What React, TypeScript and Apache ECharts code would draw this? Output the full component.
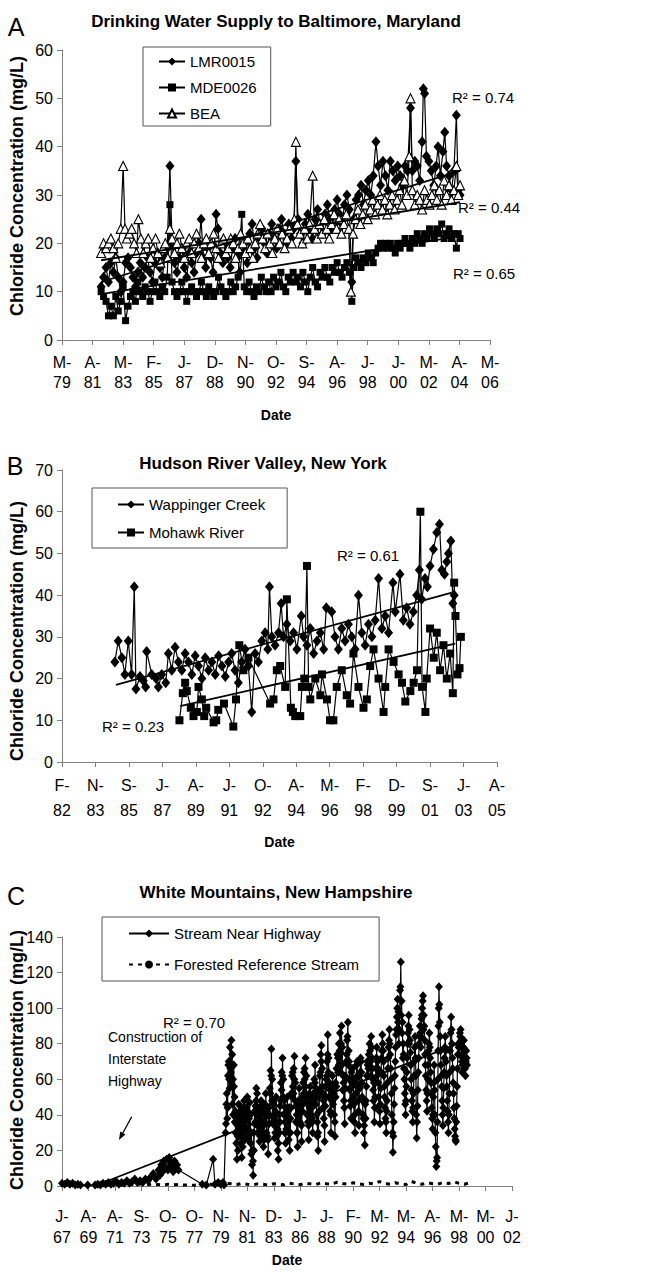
import React, { useEffect, useRef } from "react";
import * as echarts from "echarts";

const FONT = "'Liberation Sans', Arial, Helvetica, sans-serif";

// Date-axis tick labels (one label per major tick)
const ticksA = ["M-79", "A-81", "M-83", "F-85", "J-87", "D-88", "N-90", "O-92", "S-94", "A-96", "J-98", "J-00", "M-02", "A-04", "M-06"];
const ticksB = ["F-82", "N-83", "S-85", "J-87", "A-89", "J-91", "O-92", "A-94", "M-96", "F-98", "D-99", "S-01", "J-03", "A-05"];
const ticksC = ["J-67", "A-69", "A-71", "S-73", "O-75", "O-77", "N-79", "N-81", "D-83", "J-86", "J-88", "F-90", "M-92", "M-94", "A-96", "M-98", "M-00", "J-02"];

// x = position on the date axis in major-tick units, y = chloride (mg/L)
const lmr0015 = [[1.28,11],[1.36,13],[1.44,15],[1.52,12],[1.6,16],[1.68,14],[1.76,17],[1.84,13],[1.92,10],[2.0,12],[2.08,16],[2.16,17],[2.24,15],[2.32,13],[2.4,11],[2.48,14],[2.56,16],[2.64,13],[2.72,15],[2.8,17],[2.88,14],[2.96,12],[3.04,16],[3.12,18],[3.2,15],[3.28,13],[3.36,17],[3.44,19],[3.53,36],[3.6,20],[3.68,16],[3.76,14],[3.84,17],[3.92,19],[4.0,15],[4.08,13],[4.16,18],[4.24,16],[4.32,14],[4.4,18],[4.48,20],[4.55,25],[4.62,17],[4.7,15],[4.78,19],[4.86,17],[4.94,14],[5.04,26],[5.1,23],[5.18,18],[5.26,16],[5.34,20],[5.42,17],[5.5,15],[5.58,19],[5.66,21],[5.74,17],[5.82,14],[5.9,18],[5.98,20],[6.06,16],[6.14,22],[6.22,24],[6.3,19],[6.38,17],[6.46,21],[6.54,23],[6.62,20],[6.7,18],[6.78,22],[6.86,24],[6.94,21],[7.02,19],[7.1,23],[7.18,25],[7.26,22],[7.34,20],[7.42,24],[7.5,21],[7.58,23],[7.65,37],[7.72,25],[7.8,22],[7.88,20],[7.96,24],[8.04,26],[8.12,23],[8.2,21],[8.28,25],[8.36,27],[8.44,24],[8.52,22],[8.6,26],[8.68,28],[8.76,25],[8.84,23],[8.92,27],[9.0,29],[9.08,26],[9.16,24],[9.24,28],[9.32,30],[9.4,27],[9.48,12],[9.54,25],[9.62,29],[9.7,30],[9.78,32],[9.86,28],[9.94,31],[10.02,33],[10.1,30],[10.18,34],[10.27,41],[10.34,36],[10.42,32],[10.5,37],[10.58,34],[10.66,31],[10.74,37],[10.82,35],[10.9,33],[10.98,36],[11.06,34],[11.14,32],[11.22,36],[11.3,35],[11.4,48],[11.46,35],[11.54,37],[11.62,36],[11.7,33],[11.78,41],[11.82,52],[11.86,51],[11.92,38],[12.0,37],[12.08,35],[12.16,32],[12.24,36],[12.3,40],[12.38,34],[12.46,39],[12.52,43],[12.58,36],[12.66,34],[12.74,31],[12.82,35],[12.9,46.5],[12.96,31],[13.02,30]];
const mde0026 = [[1.28,10],[1.36,9],[1.44,8],[1.52,5],[1.6,7],[1.68,5],[1.76,9],[1.84,6],[1.92,8],[2.0,11],[2.08,4],[2.16,7],[2.24,9],[2.32,10],[2.4,8],[2.48,12],[2.56,10],[2.64,9],[2.72,11],[2.8,10],[2.88,8],[2.96,10],[3.04,12],[3.12,10],[3.2,9],[3.28,11],[3.36,10],[3.44,13],[3.53,28],[3.6,12],[3.68,10],[3.76,9],[3.84,10],[3.92,12],[4.0,10],[4.08,8],[4.16,10],[4.24,11],[4.32,10],[4.4,9],[4.48,10],[4.56,12],[4.64,10],[4.72,9],[4.8,11],[4.88,10],[4.96,9],[5.04,10],[5.12,13],[5.2,11],[5.28,10],[5.36,9],[5.44,10],[5.52,12],[5.6,10],[5.68,11],[5.76,13],[5.88,26],[5.96,11],[6.04,10],[6.12,12],[6.2,10],[6.28,9],[6.36,11],[6.44,10],[6.52,13],[6.6,11],[6.68,10],[6.76,12],[6.84,10],[6.92,13],[7.0,11],[7.08,12],[7.16,14],[7.24,11],[7.32,10],[7.4,13],[7.48,12],[7.56,14],[7.64,12],[7.72,13],[7.8,11],[7.88,14],[7.96,12],[8.04,10],[8.12,13],[8.2,15],[8.28,12],[8.36,11],[8.44,14],[8.52,13],[8.6,15],[8.68,13],[8.76,12],[8.84,15],[8.92,14],[9.0,16],[9.08,14],[9.16,13],[9.24,15],[9.32,16],[9.4,14],[9.48,8],[9.54,15],[9.62,17],[9.7,16],[9.78,15],[9.86,17],[9.94,16],[10.02,18],[10.1,17],[10.18,16],[10.26,18],[10.34,19],[10.42,20],[10.5,19],[10.58,20],[10.66,19],[10.74,20],[10.82,19],[10.9,18],[10.98,20],[11.06,19],[11.14,20],[11.22,21],[11.3,20],[11.38,19],[11.46,21],[11.54,20],[11.62,22],[11.7,21],[11.78,20],[11.86,22],[11.94,21],[12.02,23],[12.1,22],[12.18,21],[12.26,23],[12.34,22],[12.42,24],[12.5,21],[12.58,22],[12.66,23],[12.74,21],[12.82,22],[12.9,19],[12.96,22],[13.02,21]];
const bea = [[1.28,18],[1.36,20],[1.44,19],[1.52,20],[1.6,21],[1.68,19],[1.76,17],[1.84,20],[1.92,23],[2.0,36],[2.06,23],[2.12,21],[2.2,22],[2.28,23],[2.36,20],[2.44,18],[2.5,25],[2.58,21],[2.66,18],[2.74,20],[2.82,21],[2.9,17],[2.98,19],[3.06,21],[3.14,18],[3.22,16],[3.3,19],[3.38,20],[3.46,17],[3.53,23],[3.6,21],[3.68,18],[3.76,20],[3.84,22],[3.92,19],[4.0,17],[4.08,20],[4.16,21],[4.24,18],[4.32,20],[4.4,22],[4.48,19],[4.56,17],[4.64,20],[4.72,21],[4.8,18],[4.88,20],[4.96,22],[5.04,19],[5.12,17],[5.2,20],[5.28,21],[5.36,18],[5.44,19],[5.52,21],[5.6,20],[5.68,17],[5.76,19],[5.84,22],[5.92,20],[6.0,18],[6.08,21],[6.16,19],[6.24,17],[6.32,20],[6.4,22],[6.48,24],[6.56,21],[6.64,19],[6.72,22],[6.8,20],[6.88,18],[6.96,21],[7.04,23],[7.12,20],[7.2,22],[7.28,19],[7.36,21],[7.44,23],[7.52,20],[7.6,25],[7.65,41],[7.7,24],[7.78,22],[7.86,20],[7.94,23],[8.02,21],[8.1,24],[8.2,34],[8.26,23],[8.34,21],[8.42,24],[8.5,22],[8.58,25],[8.66,23],[8.74,21],[8.82,24],[8.9,26],[8.98,23],[9.06,25],[9.14,22],[9.22,24],[9.3,26],[9.38,23],[9.45,10],[9.52,22],[9.6,25],[9.68,27],[9.76,24],[9.84,26],[9.92,28],[10.0,25],[10.08,27],[10.16,29],[10.24,26],[10.32,28],[10.4,30],[10.48,27],[10.56,29],[10.64,26],[10.72,28],[10.8,30],[10.88,27],[10.96,29],[11.04,31],[11.12,28],[11.2,33],[11.28,30],[11.36,38],[11.4,50],[11.46,31],[11.54,28],[11.62,30],[11.7,29],[11.78,27],[11.86,31],[11.94,29],[12.02,28],[12.1,30],[12.18,32],[12.26,29],[12.34,31],[12.42,28],[12.5,33],[12.58,30],[12.66,32],[12.74,29],[12.82,31],[12.9,36],[12.96,30],[13.02,32]];
const trendLMR = [[1.28,12],[13.02,35]];
const trendMDE = [[1.28,9.5],[13.02,21.5]];
const trendBEA = [[1.28,16.5],[13.02,28.5]];

const wappinger = [[1.58,24],[1.68,29],[1.79,25],[1.88,21],[1.98,29],[2.08,21],[2.16,42],[2.21,17.5],[2.33,20.5],[2.43,19.5],[2.5,18],[2.53,26.5],[2.68,21],[2.81,20],[2.88,18],[2.98,21],[3.1,19],[3.18,26],[3.28,22],[3.38,27.5],[3.48,24],[3.58,22],[3.68,26],[3.78,24],[3.88,21],[3.98,25.5],[4.08,23],[4.18,20],[4.28,25],[4.38,22],[4.48,24],[4.58,21],[4.68,25.5],[4.78,23],[4.88,20.5],[4.98,24],[5.07,26],[5.17,22],[5.27,19],[5.37,24],[5.47,27],[5.57,23],[5.67,12],[5.77,26],[5.87,24],[5.97,29],[6.07,31],[6.15,27],[6.2,42],[6.27,30],[6.37,28],[6.47,31],[6.55,38],[6.62,30],[6.72,33],[6.82,29],[6.92,31],[7.02,27],[7.15,35],[7.22,30],[7.32,28],[7.42,32],[7.52,26],[7.62,29],[7.72,31],[7.82,27],[7.9,37],[8.06,36],[8.16,30],[8.26,27],[8.36,32],[8.46,29],[8.56,33],[8.66,30],[8.76,27],[8.86,40],[8.96,31],[9.06,28],[9.16,33],[9.26,30],[9.36,34],[9.46,44],[9.56,32],[9.66,35],[9.76,31],[9.89,43],[9.96,36],[10.1,45],[10.2,34],[10.3,37],[10.4,33],[10.5,36],[10.6,40],[10.68,46],[10.75,39],[10.85,44],[10.92,42],[11.0,47],[11.1,51],[11.2,55],[11.28,57],[11.35,46],[11.43,45],[11.5,48],[11.55,50],[11.62,53],[11.68,38],[11.72,40]];
const mohawk = [[3.51,10],[3.61,16.5],[3.68,19],[3.73,17],[3.85,13],[3.93,11],[4.03,12],[4.08,18],[4.18,15],[4.25,11],[4.31,13],[4.53,9.5],[4.61,10],[4.67,12.5],[4.84,14],[5.12,8.5],[5.2,15],[5.3,28],[5.42,22],[5.57,25],[6.22,14],[6.32,15],[6.42,22],[6.52,23],[6.67,18],[6.72,39],[6.84,13],[6.9,12],[6.97,11],[7.12,11],[7.17,18],[7.24,20],[7.32,47],[7.37,18],[7.42,15],[7.57,20],[7.72,16],[7.77,21],[7.92,15],[8.01,10],[8.11,10],[8.21,18],[8.36,22],[8.51,16],[8.61,14],[8.71,26],[8.86,18],[9.01,13],[9.11,15],[9.21,23],[9.31,27],[9.46,20],[9.61,12],[9.66,18],[9.76,27],[9.91,24],[10.06,21],[10.16,19],[10.26,14.5],[10.41,17],[10.51,19],[10.61,22],[10.71,60],[10.76,18],[10.86,12],[10.9,20],[11.0,32],[11.11,25],[11.2,31],[11.3,22],[11.4,28],[11.5,20],[11.6,26],[11.68,16.5],[11.72,43],[11.76,35],[11.82,21],[11.88,22.5],[11.92,30]];
const trendWappinger = [[1.61,18.5],[11.65,40.6]];
const trendMohawk = [[3.53,13.4],[11.75,28.4]];

const streamNearHighway = [[0.0,1.5],[0.1,1],[0.2,2],[0.3,1],[0.4,1.5],[0.5,0.5],[0.6,1],[0.7,0.5],[0.97,0.5],[1.25,0.5],[1.35,1],[1.45,0.5],[1.55,1.5],[1.65,1],[1.75,2],[1.85,1],[1.95,1.5],[2.05,2.5],[2.15,1],[2.25,2],[2.35,1.5],[2.45,3],[2.55,1.5],[2.65,2.5],[2.75,4],[2.85,2],[2.95,3],[3.05,2],[3.15,4],[3.25,3],[3.35,5],[3.45,7],[3.55,4],[3.65,9],[3.7,6],[3.75,12],[3.8,8],[3.85,14],[3.9,10],[3.95,15],[4.0,9],[4.05,16],[4.1,11],[4.15,13],[4.2,8],[4.25,14],[4.3,10],[4.35,12],[4.4,9],[5.3,1],[5.45,0.5],[5.71,15],[5.78,1],[5.9,2],[6.0,1],[6.08,2],[6.12,0.5],[6.18,30],[6.21,46],[6.24,38],[6.27,62],[6.3,70],[6.33,55],[6.36,66],[6.4,82],[6.43,74],[6.46,60],[6.49,68],[6.52,50],[6.55,42],[6.58,35],[6.61,15],[6.64,28],[6.67,40],[6.7,33],[6.73,45],[6.76,38],[6.79,16],[6.82,30],[6.85,42],[6.88,48],[6.91,36],[6.94,27],[6.97,44],[7.0,50],[7.03,38],[7.06,30],[7.09,47],[7.12,40],[7.15,18],[7.18,12],[7.22,6],[7.25,20],[7.28,35],[7.31,45],[7.34,55],[7.37,52],[7.4,40],[7.43,33],[7.46,25],[7.49,38],[7.52,48],[7.55,42],[7.58,30],[7.61,22],[7.64,36],[7.67,46],[7.7,52],[7.73,40],[7.76,28],[7.79,18],[7.82,35],[7.85,55],[7.88,65],[7.91,77],[7.94,60],[7.97,48],[8.0,38],[8.03,27],[8.06,42],[8.09,50],[8.12,36],[8.15,20],[8.18,15],[8.21,30],[8.24,45],[8.27,58],[8.3,64],[8.33,72],[8.36,60],[8.39,48],[8.42,36],[8.45,24],[8.48,40],[8.51,50],[8.54,44],[8.57,30],[8.6,20],[8.63,38],[8.66,52],[8.69,62],[8.72,56],[8.75,66],[8.78,73],[8.81,58],[8.84,45],[8.87,30],[8.9,22],[8.93,40],[8.96,55],[8.99,48],[9.02,35],[9.05,25],[9.08,42],[9.11,58],[9.14,64],[9.17,60],[9.2,72],[9.23,62],[9.26,48],[9.29,36],[9.32,26],[9.35,44],[9.38,56],[9.41,50],[9.44,38],[9.47,30],[9.5,45],[9.53,60],[9.56,68],[9.59,55],[9.62,40],[9.65,28],[9.68,20],[9.71,42],[9.74,62],[9.77,74],[9.8,79],[9.83,66],[9.86,52],[9.89,38],[9.92,25],[9.95,45],[9.98,60],[10.01,70],[10.04,85],[10.07,72],[10.1,58],[10.13,42],[10.16,30],[10.19,48],[10.22,62],[10.25,56],[10.28,40],[10.31,28],[10.34,50],[10.37,66],[10.4,74],[10.43,64],[10.46,80],[10.5,86],[10.53,75],[10.56,90],[10.59,78],[10.62,62],[10.65,48],[10.68,35],[10.71,55],[10.74,70],[10.77,82],[10.8,92],[10.83,76],[10.86,60],[10.89,45],[10.92,38],[10.95,58],[10.98,66],[11.01,50],[11.04,36],[11.07,30],[11.1,52],[11.13,68],[11.16,62],[11.19,48],[11.22,34],[11.25,55],[11.28,72],[11.31,64],[11.34,50],[11.37,40],[11.4,30],[11.44,23],[11.47,38],[11.5,56],[11.53,70],[11.56,62],[11.59,74],[11.62,80],[11.65,70],[11.68,84],[11.71,72],[11.74,60],[11.77,48],[11.8,36],[11.83,50],[11.86,66],[11.89,78],[11.92,70],[11.95,58],[11.98,45],[12.01,35],[12.04,55],[12.07,72],[12.1,85],[12.13,76],[12.16,62],[12.19,50],[12.22,38],[12.25,30],[12.28,48],[12.31,66],[12.34,78],[12.37,88],[12.4,74],[12.43,60],[12.46,40],[12.5,19],[12.53,36],[12.56,55],[12.59,70],[12.62,85],[12.65,95],[12.68,105],[12.71,98],[12.74,88],[12.77,110],[12.8,126],[12.83,104],[12.86,92],[12.89,80],[12.92,66],[12.95,52],[12.98,40],[13.01,56],[13.04,72],[13.07,86],[13.1,96],[13.13,88],[13.16,75],[13.19,60],[13.22,48],[13.25,36],[13.28,52],[13.31,70],[13.34,84],[13.37,62],[13.4,27],[13.43,45],[13.46,64],[13.49,80],[13.52,90],[13.55,78],[13.58,94],[13.61,100],[13.64,107],[13.67,96],[13.7,82],[13.73,68],[13.76,54],[13.79,42],[13.82,60],[13.85,76],[13.88,86],[13.91,72],[13.94,58],[13.97,44],[14.0,32],[14.03,50],[14.06,68],[14.09,40],[14.12,22],[14.14,11],[14.17,16],[14.2,60],[14.22,90],[14.24,112],[14.27,92],[14.3,76],[14.33,62],[14.36,48],[14.39,34],[14.42,55],[14.45,72],[14.48,84],[14.51,70],[14.54,56],[14.57,42],[14.6,30],[14.63,52],[14.66,76],[14.7,95],[14.73,80],[14.76,66],[14.79,52],[14.82,38],[14.85,28],[14.88,25],[14.91,45],[14.94,66],[14.97,80],[15.0,74],[15.03,86],[15.06,88],[15.09,78],[15.12,64],[15.15,72],[15.18,82],[15.21,70],[15.24,62],[15.27,76],[15.3,68]];
// further samples of the same stream, between the ones above
const streamNearHighwayMore = [[6.195,35],[6.225,52],[6.255,44],[6.285,68],[6.315,60],[6.345,78],[6.375,64],[6.405,58],[6.435,46],[6.465,40],[6.495,56],[6.525,36],[6.555,30],[6.585,24],[6.615,38],[6.645,20],[6.675,46],[6.705,28],[6.735,36],[6.765,24],[6.795,40],[6.825,22],[6.855,34],[6.885,44],[6.915,26],[6.945,40],[6.975,32],[7.005,42],[7.035,26],[7.065,38],[7.095,30],[7.125,24],[7.155,30],[7.185,20],[7.215,14],[7.245,30],[7.275,42],[7.305,36],[7.335,48],[7.365,40],[7.395,30],[7.425,44],[7.455,34],[7.485,28],[7.515,40],[7.545,30],[7.575,46],[7.605,34],[7.635,26],[7.665,40],[7.695,44],[7.725,30],[7.755,40],[7.785,26],[7.815,44],[7.845,40],[7.875,52],[7.905,62],[7.935,48],[7.965,36],[7.995,46],[8.025,34],[8.055,30],[8.085,40],[8.115,28],[8.145,32],[8.175,24],[8.205,40],[8.235,36],[8.265,48],[8.295,54],[8.325,62],[8.355,50],[8.385,40],[8.415,30],[8.445,44],[8.475,32],[8.505,42],[8.535,36],[8.565,26],[8.595,44],[8.625,30],[8.655,44],[8.685,50],[8.715,64],[8.745,52],[8.775,60],[8.805,48],[8.835,36],[8.865,40],[8.895,30],[8.925,48],[8.955,42],[8.985,36],[9.015,46],[9.045,34],[9.075,50],[9.105,46],[9.135,52],[9.165,66],[9.195,56],[9.225,50],[9.255,40],[9.285,46],[9.315,34],[9.345,52],[9.375,46],[9.405,40],[9.435,48],[9.465,36],[9.495,52],[9.525,48],[9.555,58],[9.585,46],[9.615,52],[9.645,36],[9.675,30],[9.705,50],[9.735,54],[9.765,64],[9.795,70],[9.825,56],[9.855,44],[9.885,48],[9.915,34],[9.945,56],[9.975,50],[10.005,62],[10.035,74],[10.065,64],[10.095,50],[10.125,54],[10.155,40],[10.185,56],[10.215,50],[10.245,46],[10.275,52],[10.305,36],[10.335,58],[10.365,56],[10.395,66],[10.425,72],[10.455,68],[10.485,76],[10.515,64],[10.545,80],[10.575,68],[10.605,54],[10.635,58],[10.665,44],[10.695,62],[10.725,60],[10.755,74],[10.785,84],[10.815,68],[10.845,70],[10.875,54],[10.905,48],[10.935,64],[10.965,56],[10.995,60],[11.025,46],[11.055,40],[11.085,60],[11.115,58],[11.145,70],[11.175,56],[11.205,42],[11.235,62],[11.265,64],[11.295,70],[11.325,58],[11.355,48],[11.385,38],[11.415,34],[11.455,46],[11.485,48],[11.515,62],[11.545,68],[11.575,66],[11.605,70],[11.635,76],[11.665,62],[11.695,78],[11.725,66],[11.755,54],[11.785,58],[11.815,44],[11.845,58],[11.875,72],[11.905,62],[11.935,66],[11.965,50],[11.995,42],[12.025,46],[12.055,64],[12.085,76],[12.115,80],[12.145,70],[12.175,56],[12.205,44],[12.235,36],[12.265,42],[12.295,58],[12.325,72],[12.355,82],[12.385,80],[12.415,66],[12.445,52],[12.485,30],[12.515,28],[12.545,46],[12.575,62],[12.605,78],[12.635,88],[12.665,100],[12.695,92],[12.725,80],[12.755,96],[12.785,112],[12.815,96],[12.845,86],[12.875,72],[12.905,74],[12.935,60],[12.965,46],[12.995,48],[13.025,64],[13.055,80],[13.085,90],[13.115,80],[13.145,82],[13.175,68],[13.205,54],[13.235,42],[13.265,44],[13.295,62],[13.325,78],[13.355,72],[13.385,40],[13.415,36],[13.445,54],[13.475,72],[13.505,84],[13.535,86],[13.565,84],[13.595,96],[13.625,104],[13.655,88],[13.685,90],[13.715,74],[13.745,62],[13.775,48],[13.805,52],[13.835,68],[13.865,80],[13.895,78],[13.925,64],[13.955,52],[13.985,38],[14.015,40],[14.045,58],[14.075,54],[14.105,30],[14.155,14],[14.185,36],[14.21,76],[14.23,100],[14.255,102],[14.285,84],[14.315,68],[14.345,56],[14.375,40],[14.405,44],[14.435,64],[14.465,78],[14.495,76],[14.525,62],[14.555,48],[14.585,36],[14.615,40],[14.645,64],[14.68,86],[14.715,88],[14.745,72],[14.775,58],[14.805,44],[14.835,32],[14.865,26],[14.895,36],[14.925,56],[14.955,74],[14.985,78],[15.015,80],[15.045,84],[15.075,82],[15.105,70],[15.135,68],[15.165,78],[15.195,76],[15.225,66],[15.255,70],[15.285,72]];
const forestedReference = [[1.2,0.8],[1.4,0.5],[1.6,1],[1.8,0.6],[2.0,1.2],[2.2,0.8],[2.4,0.5],[2.6,1],[2.8,0.7],[3.0,1.2],[3.2,0.6],[3.4,1],[3.6,0.8],[3.8,0.5],[4.0,1],[4.2,0.7],[4.4,0.9],[4.6,0.5],[4.8,0.6],[5.0,0.4],[5.2,0.8],[5.4,0.5],[5.6,1],[5.8,0.7],[6.0,1],[6.2,1.5],[6.4,1.2],[6.6,0.8],[6.8,1.5],[7.0,1],[7.2,0.6],[7.4,1.2],[7.6,1],[7.8,0.5],[8.0,1.3],[8.2,1],[8.4,0.7],[8.6,1.5],[8.8,1.1],[9.0,0.8],[9.2,1.6],[9.4,1.2],[9.6,0.9],[9.8,1.8],[10.0,1.3],[10.2,1],[10.4,2.2],[10.6,1.4],[10.8,1],[11.0,1.8],[11.2,1.2],[11.4,0.9],[11.6,1.6],[11.8,1.2],[12.0,2.5],[12.2,1.5],[12.4,1],[12.6,1.8],[12.8,1.2],[13.0,0.8],[13.2,2.6],[13.4,1.5],[13.6,1],[13.8,1.8],[14.0,1.3],[14.2,1],[14.4,2],[14.6,1.4],[14.8,2.4],[15.0,1.5],[15.2,1],[15.4,1.8]];
const trendHighway = [[1.4,1],[15.3,82]];

const AXIS_COLOR = "#808080";

const streamAll = [...streamNearHighway, ...streamNearHighwayMore].sort((p, q) => p[0] - q[0]);

function xAxisFor(gridIndex: number, labels: string[], lineHeight: number, margin: number, nameGap: number) {
  return {
    type: "value",
    gridIndex,
    min: 0,
    max: labels.length - 1,
    interval: 1,
    splitLine: { show: false },
    axisLine: { show: true, lineStyle: { color: AXIS_COLOR, width: 1 } },
    axisTick: { show: true, length: 5, lineStyle: { color: AXIS_COLOR } },
    axisLabel: {
      formatter: (v: number) => {
        const s = labels[Math.round(v)];
        return s ? s.replace("-", "-\n") : "";
      },
      color: "#000",
      fontSize: 16,
      fontFamily: FONT,
      lineHeight,
      margin,
      showMinLabel: true,
      showMaxLabel: true,
    },
    name: "Date",
    nameLocation: "middle",
    nameGap,
    nameTextStyle: { fontWeight: "bold", fontSize: 14, color: "#000", fontFamily: FONT },
  };
}

function yAxisFor(gridIndex: number, max: number, interval: number) {
  return {
    type: "value",
    gridIndex,
    min: 0,
    max,
    interval,
    splitLine: { show: false },
    axisLine: { show: true, lineStyle: { color: AXIS_COLOR, width: 1 } },
    axisTick: { show: true, length: 5, lineStyle: { color: AXIS_COLOR } },
    axisLabel: { color: "#000", fontSize: 16, fontFamily: FONT, margin: 9 },
  };
}

function dataSeries(name: string, idx: number, data: number[][], symbol: string, size: any, hollow = false) {
  return {
    name,
    type: "line",
    xAxisIndex: idx,
    yAxisIndex: idx,
    data,
    symbol,
    symbolSize: size,
    showAllSymbol: true,
    lineStyle: { color: "#000", width: 1.2 },
    itemStyle: hollow ? { color: "#fff", borderColor: "#000", borderWidth: 1.1 } : { color: "#000", borderColor: "#000", borderWidth: 0 },
    emphasis: { disabled: true },
    z: 2,
  };
}

function trendSeries(idx: number, data: number[][]) {
  return {
    type: "line",
    xAxisIndex: idx,
    yAxisIndex: idx,
    data,
    symbol: "none",
    lineStyle: { color: "#000", width: 1.8 },
    silent: true,
    z: 5,
  };
}

function txt(x: number, y: number, text: string, fontSize: number, extra: any = {}) {
  return {
    type: "text",
    x,
    y,
    z: 20,
    style: {
      text,
      fill: "#000",
      font: `${extra.bold ? "bold " : ""}${fontSize}px ${FONT}`,
      textAlign: extra.align || "left",
      textVerticalAlign: "middle",
      align: extra.align || "left",
      verticalAlign: "middle",
      lineHeight: extra.lineHeight,
    },
    rotation: extra.rotation || 0,
  };
}

const legendBase = {
  orient: "vertical",
  borderColor: "#555",
  borderWidth: 1,
  backgroundColor: "#fff",
  selectedMode: false,
  itemHeight: 10,
  textStyle: { fontSize: 15, color: "#000", fontFamily: FONT },
  z: 10,
};

const option: any = {
  animation: false,
  backgroundColor: "#fff",
  grid: [
    { left: 62, top: 50, width: 428, height: 290 },
    { left: 62, top: 470, width: 435, height: 292 },
    { left: 62, top: 937, width: 450, height: 249 },
  ],
  xAxis: [
    xAxisFor(0, ticksA, 20, 12, 68),
    xAxisFor(1, ticksB, 25, 11, 73),
    xAxisFor(2, ticksC, 21, 20, 67),
  ],
  yAxis: [yAxisFor(0, 60, 10), yAxisFor(1, 70, 10), yAxisFor(2, 140, 20)],
  legend: [
    { ...legendBase, data: ["LMR0015", "MDE0026", "BEA"], left: 143, top: 47, padding: [7, 14, 5, 15], itemGap: 11, itemWidth: 26 },
    { ...legendBase, data: ["Wappinger Creek", "Mohawk River"], left: 92, top: 488, padding: [9, 22, 8, 25], itemGap: 13, itemWidth: 26 },
    { ...legendBase, data: ["Stream Near Highway", "Forested Reference Stream"], left: 102, top: 917, padding: [9, 20, 9, 26], itemGap: 16, itemWidth: 40 },
  ],
  series: [
    dataSeries("LMR0015", 0, lmr0015, "diamond", [9, 11]),
    dataSeries("MDE0026", 0, mde0026, "rect", 7),
    dataSeries("BEA", 0, bea, "triangle", 9, true),
    trendSeries(0, trendLMR),
    trendSeries(0, trendMDE),
    trendSeries(0, trendBEA),
    dataSeries("Wappinger Creek", 1, wappinger, "diamond", [9, 11]),
    dataSeries("Mohawk River", 1, mohawk, "rect", 8),
    trendSeries(1, trendWappinger),
    trendSeries(1, trendMohawk),
    dataSeries("Stream Near Highway", 2, streamAll, "diamond", [8, 9]),
    {
      name: "Forested Reference Stream",
      type: "line",
      xAxisIndex: 2,
      yAxisIndex: 2,
      data: forestedReference,
      symbol: "none",
      itemStyle: { color: "#000" },
      lineStyle: { color: "#000", width: 3, type: [4, 5] },
      emphasis: { disabled: true },
      z: 3,
    },
    trendSeries(2, trendHighway),
  ],
  graphic: [
    txt(16, 27, "A", 25, { align: "center" }),
    txt(15, 466, "B", 25, { align: "center" }),
    txt(16, 896, "C", 25, { align: "center" }),
    txt(276, 21, "Drinking Water Supply to Baltimore, Maryland", 17, { bold: true, align: "center" }),
    txt(263, 463, "Hudson River Valley, New York", 17, { bold: true, align: "center" }),
    txt(276, 892, "White Mountains, New Hampshire", 17, { bold: true, align: "center" }),
    txt(17, 186, "Chloride Concentration (mg/L)", 18, { bold: true, align: "center", rotation: Math.PI / 2 }),
    txt(17, 631, "Chloride Concentration (mg/L)", 18, { bold: true, align: "center", rotation: Math.PI / 2 }),
    txt(17, 1060, "Chloride Concentration (mg/L)", 18, { bold: true, align: "center", rotation: Math.PI / 2 }),
    txt(452, 97, "R² = 0.74", 15),
    txt(458, 207, "R² = 0.44", 15),
    txt(453, 273, "R² = 0.65", 15),
    txt(337, 555, "R² = 0.61", 15),
    txt(102, 726, "R² = 0.23", 15),
    txt(163, 1022, "R² = 0.70", 15),
    txt(108, 1059, "Construction of\nInterstate\nHighway", 14, { lineHeight: 22 }),
    {
      type: "line",
      z: 20,
      shape: { x1: 131.7, y1: 1116.7, x2: 122, y2: 1134.5 },
      style: { stroke: "#000", lineWidth: 1.3 },
    },
    {
      type: "polygon",
      z: 20,
      shape: { points: [[119, 1140], [125.4, 1134.4], [120.2, 1131.6]] },
      style: { fill: "#000" },
    },
  ],
};

export default function App() {
  const ref = useRef<HTMLDivElement>(null);
  useEffect(() => {
    if (!ref.current) return;
    const chart = echarts.init(ref.current, null, { renderer: "svg" });
    chart.setOption(option);
    return () => chart.dispose();
  }, []);
  return (
    <div
      ref={ref}
      style={{ position: "absolute", left: 0, top: 0, width: 648, height: 1276, background: "#fff" }}
    />
  );
}
